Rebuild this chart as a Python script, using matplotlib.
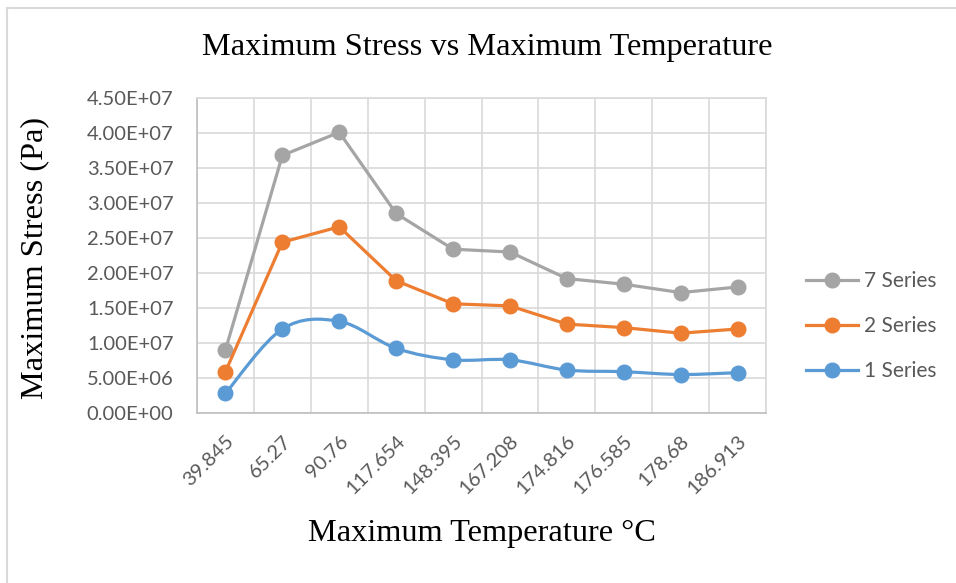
import numpy as np
import matplotlib.pyplot as plt
from matplotlib.path import Path
from matplotlib.patches import PathPatch
from matplotlib.lines import Line2D
from matplotlib.ticker import FuncFormatter, FixedLocator

# Maximum temperature (°C) categories and maximum stress (Pa) per configuration
temps = ["39.845", "65.27", "90.76", "117.654", "148.395",
         "167.208", "174.816", "176.585", "178.68", "186.913"]
stress_7 = [9.0e6, 36.8e6, 40.1e6, 28.5e6, 23.4e6, 23.0e6, 19.2e6, 18.4e6, 17.2e6, 18.0e6]
stress_2 = [5.9e6, 24.4e6, 26.6e6, 18.9e6, 15.6e6, 15.3e6, 12.7e6, 12.2e6, 11.4e6, 12.0e6]
stress_1 = [2.8e6, 12.0e6, 13.1e6, 9.24e6, 7.6e6, 7.6e6, 6.14e6, 5.9e6, 5.5e6, 5.76e6]

grey = "#A5A5A5"
orange = "#ED7D31"
blue = "#5B9BD5"
txt = "#595959"
grid_c = "#D9D9D9"

fig = plt.figure(figsize=(9.56, 5.83), dpi=100)
ax = fig.add_axes([197/956, 1-413/583, (766-197)/956, (413-98)/583])

x = np.arange(len(temps))


def smooth_path(xs, ys):
    # cubic bezier through every point (catmull-rom style tangents)
    pts = np.column_stack([xs, ys]).astype(float)
    n = len(pts)
    verts = [pts[0]]
    codes = [Path.MOVETO]
    for i in range(n - 1):
        p0 = pts[max(i - 1, 0)]
        p1 = pts[i]
        p2 = pts[i + 1]
        p3 = pts[min(i + 2, n - 1)]
        c1 = p1 + (p2 - p0) / 6
        c2 = p2 - (p3 - p1) / 6
        verts += [c1, c2, p2]
        codes += [Path.CURVE4] * 3
    return Path(verts, codes)


lw = 2.3
ms = 10.5
ax.plot(x, stress_7, color=grey, lw=lw, marker="o", ms=ms, zorder=3)
ax.plot(x, stress_2, color=orange, lw=lw, marker="o", ms=ms, zorder=4)
ax.add_patch(PathPatch(smooth_path(x, stress_1), facecolor="none",
                       edgecolor=blue, lw=lw, zorder=5, capstyle="round"))
ax.plot(x, stress_1, color=blue, lw=0, marker="o", ms=ms, zorder=6)

ax.set_xlim(-0.5, len(temps) - 0.5)
ax.set_ylim(0, 4.5e7)
ax.set_yticks(np.arange(0, 4.5e7 + 1, 5e6))
ax.yaxis.set_major_formatter(FuncFormatter(lambda v, p: "{:.2E}".format(v)))
ax.set_xticks(x)
ax.set_xticklabels(temps, rotation=45, ha="right", va="top",
                   rotation_mode="anchor")
ax.xaxis.set_minor_locator(FixedLocator(np.arange(-0.5, len(temps), 1)))

ax.grid(True, axis="y", which="major", color=grid_c, lw=1.2)
ax.grid(True, axis="x", which="minor", color=grid_c, lw=1.2)
ax.set_axisbelow(True)
for s in ["top", "right"]:
    ax.spines[s].set_color(grid_c)
    ax.spines[s].set_linewidth(1.2)
for s in ["left", "bottom"]:
    ax.spines[s].set_color("#BFBFBF")
    ax.spines[s].set_linewidth(1.2)
ax.tick_params(axis="both", which="both", length=0, colors=txt, labelsize=14.5)
ax.tick_params(axis="y", pad=17)
ax.tick_params(axis="x", pad=14)
for lab in ax.get_xticklabels() + ax.get_yticklabels():
    lab.set_family("Lato")

fig.text(487/956, 1-47/583, "Maximum Stress vs Maximum Temperature",
         ha="center", va="center", family="Liberation Serif", fontsize=23.3)
fig.text(482/956, 1-533/583, "Maximum Temperature °C",
         ha="center", va="center", family="Liberation Serif", fontsize=23.3)
fig.text(35/956, 1-258/583, "Maximum Stress (Pa)", rotation=90,
         ha="center", va="center", family="Liberation Serif", fontsize=23.3)

handles = [Line2D([], [], color=c, lw=lw, marker="o", ms=ms)
           for c in (grey, orange, blue)]
leg = fig.legend(handles, ["7 Series", "2 Series", "1 Series"],
                 loc="center left", bbox_to_anchor=(806/956, 1-326/583),
                 frameon=False, handlelength=2.5, labelspacing=1.2,
                 handletextpad=0.3, borderpad=0, borderaxespad=0,
                 prop={"family": "Lato", "size": 15})
for t in leg.get_texts():
    t.set_color(txt)

# chart area border
fig.add_artist(Line2D([7/956, 1], [1-8/583, 1-8/583], color=grid_c, lw=1.5))
fig.add_artist(Line2D([7/956, 7/956], [0, 1-8/583], color=grid_c, lw=1.5))

fig.savefig("out.png", dpi=100)
